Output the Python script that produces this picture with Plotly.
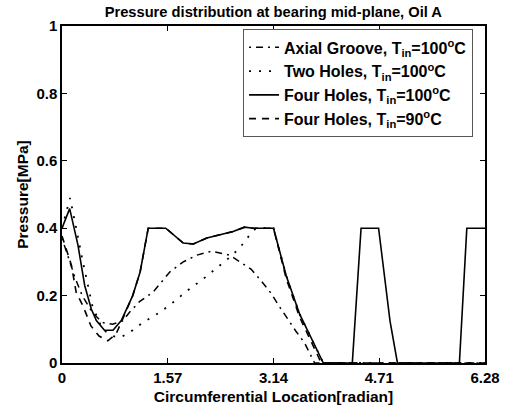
import plotly.graph_objects as go

# ---- data ----
axial_x = [0, 0.10, 0.20, 0.30, 0.45, 0.60, 0.75, 0.90, 1.00, 1.15, 1.35, 1.60, 1.80, 2.00, 2.22, 2.49, 2.81, 2.96, 3.10, 3.22, 3.35, 3.47, 3.60, 3.75, 6.28]
axial_y = [0.37, 0.31, 0.25, 0.20, 0.15, 0.12, 0.115, 0.125, 0.15, 0.182, 0.21, 0.27, 0.30, 0.32, 0.332, 0.32, 0.278, 0.243, 0.208, 0.17, 0.13, 0.095, 0.06, 0.0, 0.0]

two_x = [0, 0.12, 0.30, 0.45, 0.60, 0.75, 0.86, 1.00, 1.20, 1.45, 1.65, 1.85, 2.10, 2.30, 2.50, 2.64, 2.81, 2.88, 3.14, 3.33, 3.53, 3.88, 6.28]
two_y = [0.40, 0.49, 0.31, 0.17, 0.10, 0.08, 0.075, 0.09, 0.12, 0.15, 0.18, 0.213, 0.25, 0.282, 0.315, 0.342, 0.386, 0.40, 0.40, 0.258, 0.144, 0.0, 0.0]

four100_x = [0, 0.114, 0.237, 0.337, 0.435, 0.51, 0.63, 0.757, 0.88, 1.05, 1.16, 1.28, 1.54, 1.80, 1.95, 2.15, 2.54, 2.71, 2.84, 3.14, 3.33, 3.53, 3.88, 4.31, 4.44, 4.70, 4.87, 4.98, 5.90, 6.01, 6.28]
four100_y = [0.40, 0.458, 0.35, 0.23, 0.16, 0.126, 0.097, 0.097, 0.126, 0.20, 0.27, 0.40, 0.40, 0.356, 0.353, 0.371, 0.39, 0.403, 0.40, 0.40, 0.258, 0.144, 0.0, 0.0, 0.40, 0.40, 0.124, 0.0, 0.0, 0.40, 0.40]

four90_x = [0, 0.14, 0.21, 0.31, 0.43, 0.55, 0.68, 0.80, 0.90, 1.05, 1.16, 1.28, 1.54, 1.80, 1.95, 2.15, 2.54, 2.71, 2.84, 3.14, 3.33, 3.53, 3.85, 6.28]
four90_y = [0.377, 0.29, 0.21, 0.17, 0.11, 0.08, 0.066, 0.085, 0.13, 0.20, 0.27, 0.40, 0.40, 0.356, 0.353, 0.371, 0.39, 0.403, 0.40, 0.40, 0.25, 0.135, 0.0, 0.0]

names = [
    "Axial Groove, T<sub>in</sub>=100<sup>o</sup>C",
    "Two Holes, T<sub>in</sub>=100<sup>o</sup>C",
    "Four Holes, T<sub>in</sub>=100<sup>o</sup>C",
    "Four Holes, T<sub>in</sub>=90<sup>o</sup>C",
]

x_tickvals = [0, 1.57, 3.14, 4.71, 6.28]
x_ticktext = ["0", "1.57", "3.14", "4.71", "6.28"]
y_tickvals = [0, 0.2, 0.4, 0.6, 0.8, 1.0]
y_ticktext = ["0", "0.2", "0.4", "0.6", "0.8", "1"]

FONT = "Liberation Sans, Arial, sans-serif"

fig = go.Figure()
styles = [
    dict(dash="2px,5px,7px,5px", width=1.5),
    dict(dash="2px,8px", width=1.8),
    dict(dash="solid", width=1.6),
    dict(dash="7px,6px", width=1.6),
]
for xs, ys, nm, st in zip([axial_x, two_x, four100_x, four90_x],
                          [axial_y, two_y, four100_y, four90_y], names, styles):
    fig.add_trace(go.Scatter(x=xs, y=ys, mode="lines", name=nm,
                             line=dict(color="black", **st)))

fig.update_layout(
    width=508, height=409,
    margin=dict(l=62, r=23, t=26, b=46),
    paper_bgcolor="white", plot_bgcolor="white",
    font=dict(family=FONT, size=14, color="black", weight="bold"),
    title=dict(text="Pressure distribution at bearing mid-plane, Oil A",
               x=0.538, xanchor="center", y=0.972, yanchor="middle",
               font=dict(family=FONT, size=14.7, color="black", weight="bold")),
    showlegend=True,
    legend=dict(x=0.428, y=0.99, xanchor="left", yanchor="top",
                bgcolor="white", bordercolor="#555", borderwidth=1,
                font=dict(family=FONT, size=16, color="black", weight="bold"),
                tracegroupgap=0, itemwidth=30),
)
fig.update_xaxes(range=[0, 6.28], tickvals=x_tickvals, ticktext=x_ticktext,
                 ticks="inside", ticklen=5, tickcolor="black", mirror="ticks",
                 showline=True, linecolor="black", linewidth=1.5,
                 showgrid=False, zeroline=False, automargin=False,
                 title=dict(text="Circumferential Location[radian]", standoff=6,
                            font=dict(family=FONT, size=15.5, weight="bold")),
                 tickfont=dict(family=FONT, size=15, weight="bold"))
fig.update_yaxes(range=[0, 1], tickvals=y_tickvals, ticktext=y_ticktext,
                 ticks="inside", ticklen=5, tickcolor="black", mirror="ticks",
                 showline=True, linecolor="black", linewidth=1.5,
                 showgrid=False, zeroline=False, automargin=False,
                 title=dict(text="Pressure[MPa]", standoff=4,
                            font=dict(family=FONT, size=15.5, weight="bold")),
                 tickfont=dict(family=FONT, size=15, weight="bold"))

fig.write_html("out.html",
               config={"displayModeBar": False},
               post_script="document.body.style.margin='0';document.body.style.overflow='hidden';")
